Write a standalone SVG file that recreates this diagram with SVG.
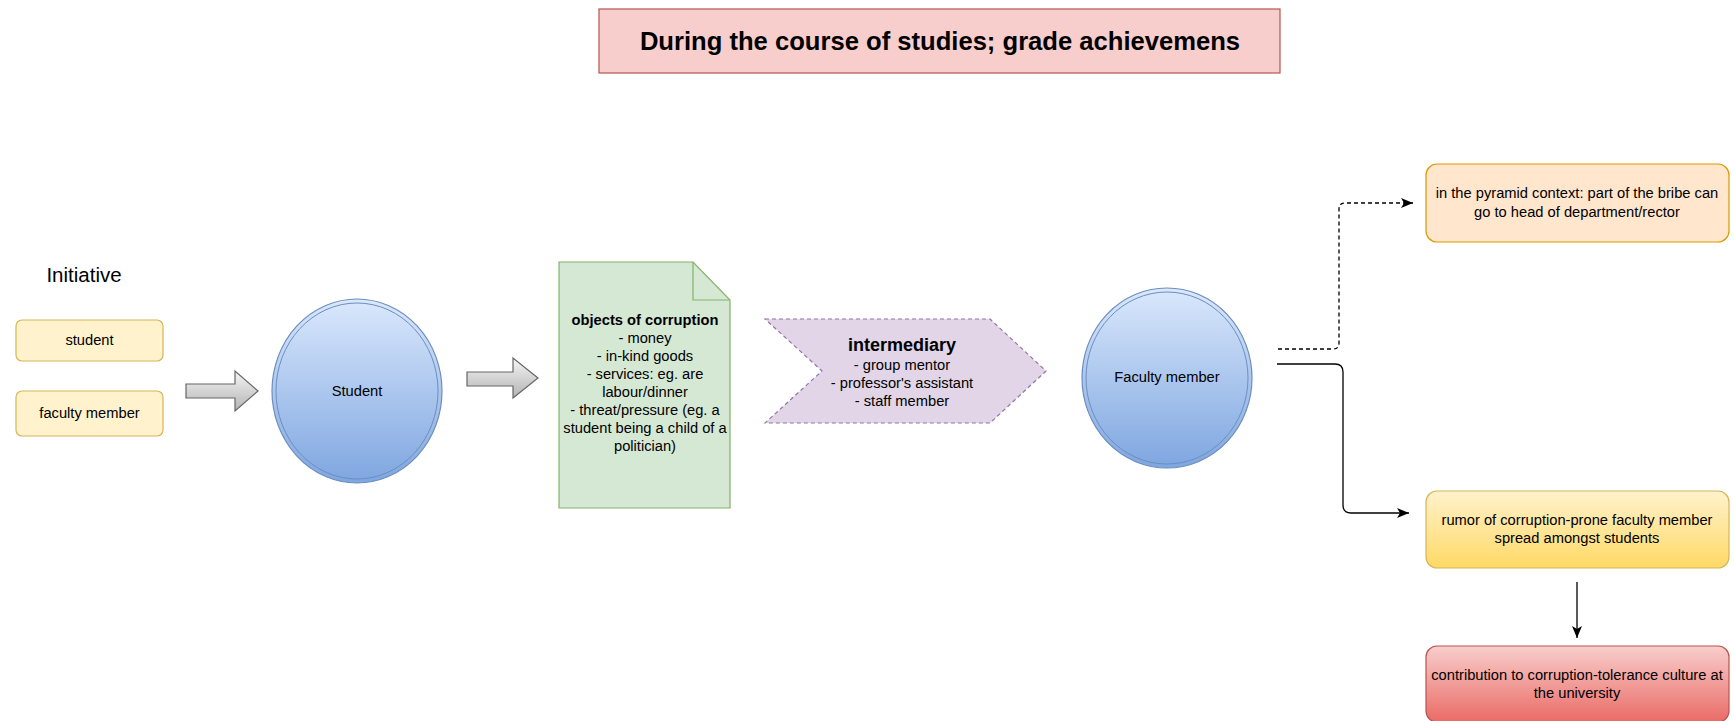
<svg xmlns="http://www.w3.org/2000/svg" width="1734" height="721" viewBox="0 0 1734 721">
<style>
text{font-family:"Liberation Sans",Arial,sans-serif;fill:#000;text-anchor:middle}
.t{font-size:14.7px}
.b{font-weight:bold}
.ybox{fill:#fff2cc;stroke:#d6b656;stroke-width:1.2}
.circ{fill:url(#gBlue);stroke:#6c8ebf;stroke-width:1.2}
.circi{fill:none;stroke:#6c8ebf;stroke-width:1}
.barrow{fill:url(#gGray);stroke:#666;stroke-width:1.2}
.conn{fill:none;stroke:#000;stroke-width:1.3}
</style>
<defs>
<linearGradient id="gBlue" x1="0" y1="0" x2="0" y2="1"><stop offset="0" stop-color="#dae8fc"/><stop offset="1" stop-color="#7ea6e0"/></linearGradient>
<linearGradient id="gGray" x1="0" y1="0" x2="0" y2="1"><stop offset="0" stop-color="#f5f5f5"/><stop offset="1" stop-color="#b3b3b3"/></linearGradient>
<linearGradient id="gYel" x1="0" y1="0" x2="0" y2="1"><stop offset="0" stop-color="#fff2cc"/><stop offset="1" stop-color="#ffd966"/></linearGradient>
<linearGradient id="gRed" x1="0" y1="0" x2="0" y2="1"><stop offset="0" stop-color="#f8cecc"/><stop offset="1" stop-color="#ea6b66"/></linearGradient>
<marker id="ah" markerUnits="userSpaceOnUse" markerWidth="14" markerHeight="12" refX="12" refY="5" orient="auto"><path d="M0,0 L12,5 L0,10 L3,5 Z" fill="#000"/></marker>
</defs>

<g id="title">
<rect x="599" y="9" width="681" height="64" fill="#f8cecc" stroke="#b85450" stroke-width="1.2"/>
<text x="940" y="50" class="b" style="font-size:25.6px">During the course of studies; grade achievemens</text>
</g>

<g id="initiative-label"><text x="84" y="282" style="font-size:20.5px">Initiative</text></g>
<g id="init-student"><rect class="ybox" x="16" y="320" width="147" height="41" rx="6"/><text class="t" x="89.5" y="345">student</text></g>
<g id="init-faculty"><rect class="ybox" x="16" y="391" width="147" height="45" rx="6"/><text class="t" x="89.5" y="418">faculty member</text></g>

<g id="arrow1"><polygon class="barrow" points="186,384 235,384 235,371 258,391 235,411 235,398 186,398"/></g>

<g id="student">
<ellipse class="circ" cx="357" cy="391" rx="85" ry="92"/>
<ellipse class="circi" cx="357" cy="391" rx="81" ry="88"/>
<text class="t" x="357" y="396">Student</text>
</g>

<g id="arrow2"><polygon class="barrow" points="467,372 513,372 513,358 538,378 513,398 513,386 467,386"/></g>

<g id="objects">
<path d="M559,262 H693 L730,300 V508 H559 Z" fill="#d5e8d4" stroke="#82b366" stroke-width="1.2"/>
<path d="M693,262 V300 H730" fill="none" stroke="#82b366" stroke-width="1.2"/>
<text class="t b" x="645" y="325">objects of corruption</text>
<text class="t" x="645" y="343">- money</text>
<text class="t" x="645" y="361">- in-kind goods</text>
<text class="t" x="645" y="379">- services: eg. are</text>
<text class="t" x="645" y="397">labour/dinner</text>
<text class="t" x="645" y="415">- threat/pressure (eg. a</text>
<text class="t" x="645" y="433">student being a child of a</text>
<text class="t" x="645" y="451">politician)</text>
</g>

<g id="intermediary">
<polygon points="765,319 990,319 1046,371 990,423 765,423 822,371" fill="#e1d5e7" stroke="#9673a6" stroke-width="1.2" stroke-dasharray="4 3"/>
<text class="b" x="902" y="351" style="font-size:18px">intermediary</text>
<text class="t" x="902" y="370">- group mentor</text>
<text class="t" x="902" y="388">- professor's assistant</text>
<text class="t" x="902" y="406">- staff member</text>
</g>

<g id="faculty">
<ellipse class="circ" cx="1167" cy="378" rx="85" ry="90"/>
<ellipse class="circi" cx="1167" cy="378" rx="81" ry="86"/>
<text class="t" x="1167" y="382">Faculty member</text>
</g>

<g id="pyramid">
<rect x="1426" y="164" width="303" height="78" rx="11" fill="#ffe6cc" stroke="#d79b00" stroke-width="1.2"/>
<text class="t" x="1577" y="198">in the pyramid context: part of the bribe can</text>
<text class="t" x="1577" y="217">go to head of department/rector</text>
</g>

<g id="rumor">
<rect x="1426" y="491" width="303" height="77" rx="11" fill="url(#gYel)" stroke="#d6b656" stroke-width="1.2"/>
<text class="t" x="1577" y="525">rumor of corruption-prone faculty member</text>
<text class="t" x="1577" y="543">spread amongst students</text>
</g>

<g id="contribution">
<rect x="1426" y="646" width="303" height="76" rx="11" fill="url(#gRed)" stroke="#b85450" stroke-width="1.2"/>
<text class="t" x="1577" y="680">contribution to corruption-tolerance culture at</text>
<text class="t" x="1577" y="698">the university</text>
</g>

<g id="connectors">
<path class="conn" d="M1278,349 H1333 Q1339,349 1339,343 V209 Q1339,203 1345,203 H1413" stroke-dasharray="4 3" marker-end="url(#ah)"/>
<path class="conn" d="M1277,364 H1335 Q1343,364 1343,372 V505 Q1343,513 1351,513 H1409" marker-end="url(#ah)"/>
<path class="conn" d="M1577,582 V638" marker-end="url(#ah)"/>
</g>
</svg>
